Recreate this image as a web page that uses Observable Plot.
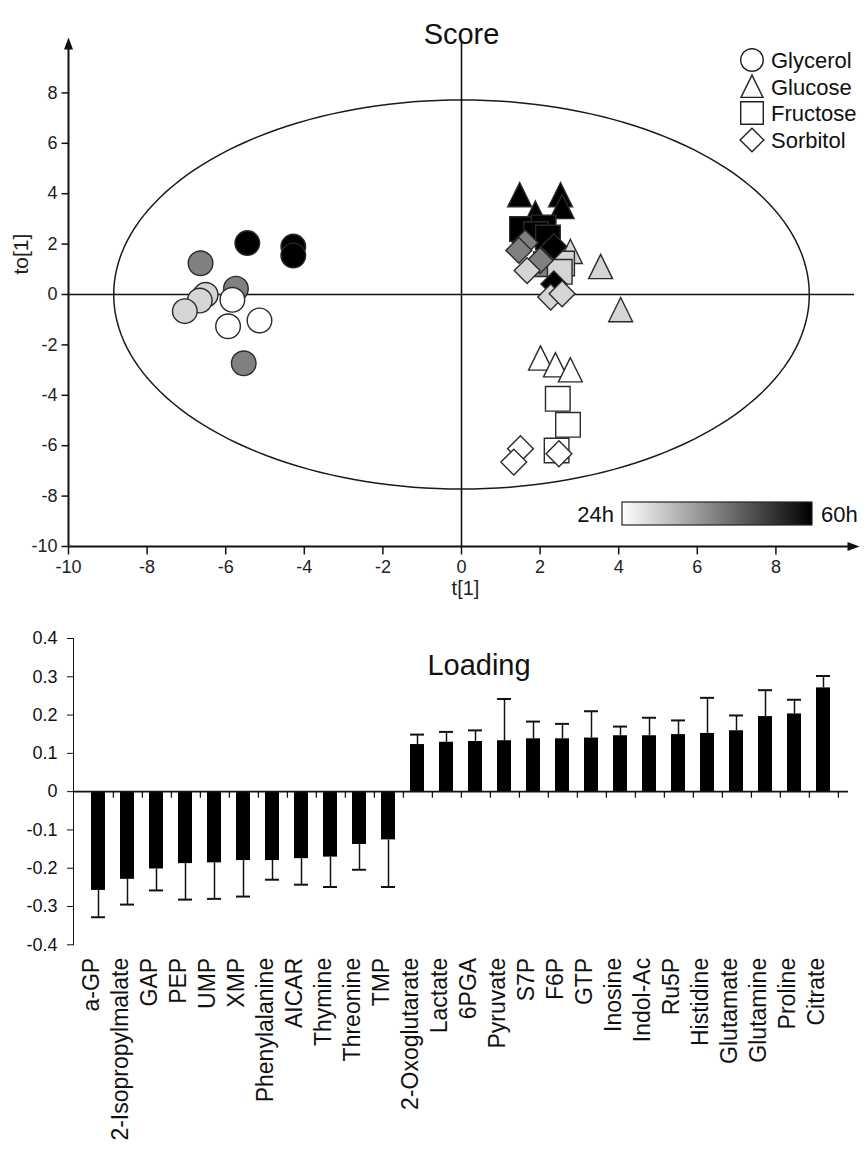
<!DOCTYPE html>
<html><head><meta charset="utf-8">
<script src="https://cdn.jsdelivr.net/npm/d3@7"></script>
<script src="https://cdn.jsdelivr.net/npm/@observablehq/plot@0.6"></script>
<style>
body{margin:0;background:#fff;font-family:Arial,"Liberation Sans",sans-serif;}
#wrap{position:relative;width:868px;height:1153px;overflow:hidden;}
#score{position:absolute;left:0;top:0;}
#loading{position:absolute;left:0;top:600px;}
#overlay{position:absolute;left:0;top:0;pointer-events:none;}
</style></head><body>
<div id="wrap"><div id="score"></div><div id="loading"></div><div id="overlay"></div></div>
<script>
// ---------------- data ----------------
const xTicks = [-10,-8,-6,-4,-2,0,2,4,6,8];
const yTicks = [-10,-8,-6,-4,-2,0,2,4,6,8];
const xDomain = [-10,10];
const yDomain = [-10,10];
const ellipseRadii = [8.85, 7.72];
const sugarNames = ["Glycerol","Glucose","Fructose","Sorbitol"];
const timeLabels = ["24h","60h"];
const timeRange = [24,60];

// Glycerol (circles)
const glycerolT  = [-5.45,-4.28,-4.28,-6.64,-5.74,-5.54,-6.51,-6.66,-7.04,-5.83,-5.94,-5.14];
const glycerolTo = [ 2.04, 1.90, 1.55, 1.24, 0.23,-2.73,-0.01,-0.24,-0.66,-0.21,-1.26,-1.03];
const glycerolH  = [ 60,   60,   60,   42,   42,   42,   30,   30,   30,   24,   24,   24];
// Glucose (triangles)
const glucoseT  = [1.88,1.48,2.52,2.56,2.77,3.54,4.05,2.01,2.39,2.77];
const glucoseTo = [3.20,3.93,3.93,3.46,1.68,1.08,-0.63,-2.55,-2.82,-3.02];
const glucoseH  = [60,  60,  60,  60,  30,  30,  30,  24,  24,  24];
// Fructose (squares)
const fructoseT  = [1.54,2.09,1.90,2.20,2.15,2.56,2.50,2.45,2.71,2.42];
const fructoseTo = [2.60,2.66,2.40,2.26,1.20,1.23,0.90,-4.14,-5.17,-6.19];
const fructoseH  = [60,  60,  60,  60,  42,  30,  30,  24,  24,  24];
// Sorbitol (diamonds)
const sorbitolT  = [1.62,1.46,2.00,2.35,2.35,1.67,2.27,2.56,1.50,1.33,2.48];
const sorbitolTo = [2.05,1.75,1.35,1.90,0.42,0.95,-0.10,0.03,-6.12,-6.65,-6.32];
const sorbitolH  = [42,  42,  42,  60,  60,  30,  30,  30,  24,  24,  24];

// Loading bar chart
const loadNames = ["a-GP","2-Isopropylmalate","GAP","PEP","UMP","XMP","Phenylalanine","AICAR","Thymine","Threonine","TMP",
  "2-Oxoglutarate","Lactate","6PGA","Pyruvate","S7P","F6P","GTP","Inosine","Indol-Ac","Ru5P","Histidine","Glutamate","Glutamine","Proline","Citrate"];
const loadValues = [-0.258,-0.229,-0.202,-0.188,-0.186,-0.180,-0.180,-0.175,-0.171,-0.138,-0.126,
  0.123,0.129,0.131,0.133,0.138,0.138,0.140,0.146,0.146,0.149,0.152,0.159,0.196,0.203,0.271];
const loadErr = [0.070,0.066,0.056,0.094,0.094,0.094,0.050,0.068,0.078,0.066,0.123,
  0.026,0.027,0.029,0.109,0.045,0.039,0.070,0.024,0.047,0.037,0.093,0.040,0.069,0.037,0.031];
const loadTicks = [-0.4,-0.3,-0.2,-0.1,0,0.1,0.2,0.3,0.4];

// ---------------- helpers ----------------
const FONT = "Arial, 'Liberation Sans', sans-serif";
const circleSym = {draw(ctx,size){const r=Math.sqrt(size/Math.PI); ctx.moveTo(r,0); ctx.arc(0,0,r,0,2*Math.PI);}};
const triSym = {draw(ctx,size){const r=Math.sqrt(size/Math.PI); ctx.moveTo(0,-r*1.05); ctx.lineTo(r*0.97,r*0.92); ctx.lineTo(-r*0.97,r*0.92); ctx.closePath();}};
const sqSym = {draw(ctx,size){const r=Math.sqrt(size/Math.PI); ctx.moveTo(-r,-r); ctx.lineTo(r,-r); ctx.lineTo(r,r); ctx.lineTo(-r,r); ctx.closePath();}};
const diaSym = {draw(ctx,size){const r=Math.sqrt(size/Math.PI)*1.05; ctx.moveTo(0,-r); ctx.lineTo(r,0); ctx.lineTo(0,r); ctx.lineTo(-r,0); ctx.closePath();}};
const hTick = {draw(ctx){ctx.moveTo(-7,0); ctx.lineTo(0,0);}};
const vTick = {draw(ctx){ctx.moveTo(0,0); ctx.lineTo(0,8);}};
const vTickSmall = {draw(ctx){ctx.moveTo(0,0); ctx.lineTo(0,6);}};
const arrowSym = {draw(ctx){ctx.moveTo(0,-7); ctx.lineTo(4.5,5); ctx.lineTo(-4.5,5); ctx.closePath();}};

const pts = (t,to,h) => t.map((d,i)=>({t:d, to:to[i], h:h[i]}));
const groups = [
  [pts(glycerolT,glycerolTo,glycerolH), circleSym],
  [pts(glucoseT,glucoseTo,glucoseH), triSym],
  [pts(fructoseT,fructoseTo,fructoseH), sqSym],
  [pts(sorbitolT,sorbitolTo,sorbitolH), diaSym]
];
const ellipse = d3.range(0,361,2).map(a=>({t: ellipseRadii[0]*Math.cos(a*Math.PI/180), to: ellipseRadii[1]*Math.sin(a*Math.PI/180)}));

// ---------------- score plot ----------------
const score = Plot.plot({
  width: 868, height: 600,
  marginLeft: 68, marginRight: 14, marginTop: 42, marginBottom: 54,
  style: {fontFamily: FONT, fontSize: "17px", color: "#111", background: "transparent", overflow: "visible"},
  x: {domain: xDomain, axis: null},
  y: {domain: yDomain, axis: null},
  color: {type: "linear", domain: timeRange, range: ["#ffffff", "#000000"]},
  marks: [
    Plot.line(ellipse, {x: "t", y: "to", stroke: "#1a1a1a", strokeWidth: 1.5}),
    Plot.ruleX([0], {stroke: "#111", strokeWidth: 1.6}),
    Plot.ruleY([0], {stroke: "#111", strokeWidth: 1.6}),
    ...groups.map(([data, sym]) => Plot.dot(data, {x: "t", y: "to", r: 12.3, symbol: sym, fill: "h", stroke: "#2a2a2a", strokeWidth: 1.4})),
    // axes
    Plot.ruleX([xDomain[0]], {stroke: "#111", strokeWidth: 2}),
    Plot.ruleY([yDomain[0]], {stroke: "#111", strokeWidth: 2}),
    Plot.dot([yDomain[1]], {x: xDomain[0], y: d => d, symbol: arrowSym, fill: "#111", stroke: "none", dy: 2}),
    Plot.dot([xDomain[1]], {x: d => d, y: yDomain[0], symbol: arrowSym, rotate: 90, fill: "#111", stroke: "none", dx: -2}),
    Plot.dot(yTicks, {x: xDomain[0], y: d => d, symbol: hTick, stroke: "#111", fill: "none", strokeWidth: 1.5}),
    Plot.dot(xTicks, {x: d => d, y: yDomain[0], symbol: vTick, stroke: "#111", fill: "none", strokeWidth: 1.5}),
    Plot.text(yTicks, {x: xDomain[0], y: d => d, text: d => String(d), dx: -11, textAnchor: "end", fontSize: 18, fill: "#222"}),
    Plot.text(xTicks, {x: d => d, y: yDomain[0], text: d => String(d), dy: 21, fontSize: 18, fill: "#222"}),
    Plot.text(["t[1]"], {frameAnchor: "bottom", text: d => d, dx: 4, dy: 48, fontSize: 20, fill: "#222"}),
    Plot.text(["to[1]"], {frameAnchor: "left", text: d => d, dx: -47, dy: -20, rotate: -90, fontSize: 21, fill: "#222"}),
    Plot.text(["Score"], {frameAnchor: "top", text: d => d, dy: -19, fontSize: 29, fill: "#111"})
  ]
});
document.getElementById("score").appendChild(score);

// ---------------- loading plot ----------------
const loadData = loadNames.map((n,i)=>({name: n, v: loadValues[i], end: loadValues[i] + Math.sign(loadValues[i]) * loadErr[i]}));
const barMarginLeft = 73, barMarginRight = 20;
const step = (868 - barMarginLeft - barMarginRight) / loadNames.length;
const loading = Plot.plot({
  width: 868, height: 553,
  marginLeft: barMarginLeft, marginRight: barMarginRight, marginTop: 38, marginBottom: 208.7,
  style: {fontFamily: FONT, fontSize: "18px", color: "#111", background: "transparent", overflow: "visible"},
  x: {domain: loadNames, paddingInner: 0.53, paddingOuter: 0.265, axis: null},
  y: {domain: [-0.4, 0.4], ticks: loadTicks, tickFormat: d => d === 0 ? "0" : d.toFixed(1), tickSize: 6, tickPadding: 10, line: true, label: null},
  marks: [
    Plot.ruleX(loadData, {x: "name", y1: "v", y2: "end", stroke: "#111", strokeWidth: 1.5}),
    Plot.tickY(loadData, {x: "name", y: "end", stroke: "#111", strokeWidth: 2}),
    Plot.barY(loadData, {x: "name", y: "v", fill: "#000"}),
    Plot.ruleY([0], {stroke: "#111", strokeWidth: 1.8}),
    Plot.dot(loadNames, {x: d => d, y: 0, dx: step / 2, symbol: vTickSmall, stroke: "#111", fill: "none", strokeWidth: 1.3}),
    Plot.text(loadNames, {x: d => d, text: d => d, frameAnchor: "bottom", dy: 13, rotate: -90, textAnchor: "end", fontSize: 23, fill: "#111"}),
    Plot.text(["Loading"], {frameAnchor: "top", text: d => d, dx: 18, dy: 16, fontSize: 29, fill: "#111"})
  ]
});
document.getElementById("loading").appendChild(loading);

// ---------------- legend + colorbar overlay ----------------
const ov = d3.select("#overlay").append("svg").attr("width", 868).attr("height", 600)
  .style("font-family", FONT);
const legendSyms = [circleSym, triSym, sqSym, diaSym];
const legendY = [60, 87, 113, 140];
sugarNames.forEach((name, i) => {
  ov.append("path")
    .attr("d", d3.symbol().type(legendSyms[i]).size(Math.PI * 11.3 * 11.3)())
    .attr("transform", `translate(752,${legendY[i]})`)
    .attr("fill", "white").attr("stroke", "#222").attr("stroke-width", 1.4);
  ov.append("text").attr("x", 771).attr("y", legendY[i]).attr("dy", "0.35em")
    .attr("font-size", 22).attr("fill", "#111").text(name);
});
const grad = ov.append("defs").append("linearGradient").attr("id", "tg");
grad.append("stop").attr("offset", "0%").attr("stop-color", "#ffffff");
grad.append("stop").attr("offset", "100%").attr("stop-color", "#000000");
ov.append("rect").attr("x", 622).attr("y", 502).attr("width", 190).attr("height", 23)
  .attr("fill", "url(#tg)").attr("stroke", "#222").attr("stroke-width", 1.2);
ov.append("text").attr("x", 614).attr("y", 514).attr("dy", "0.35em").attr("text-anchor", "end")
  .attr("font-size", 22).attr("fill", "#111").text(timeLabels[0]);
ov.append("text").attr("x", 821).attr("y", 514).attr("dy", "0.35em")
  .attr("font-size", 22).attr("fill", "#111").text(timeLabels[1]);
</script>
</body></html>
